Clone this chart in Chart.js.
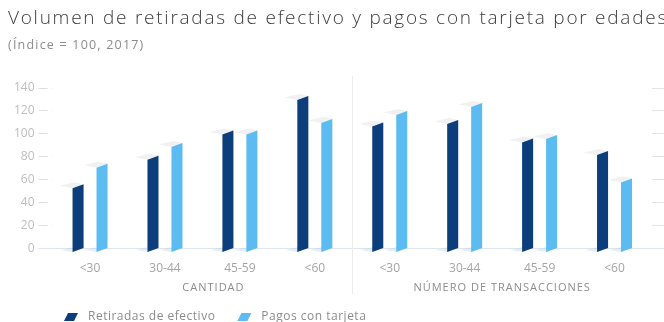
<!DOCTYPE html>
<html>
<head>
<meta charset="utf-8">
<script src="https://cdn.jsdelivr.net/npm/chart.js@4.4.1/dist/chart.umd.min.js"></script>
<style>
  html, body { margin: 0; padding: 0; background: #ffffff; }
  #wrap { position: relative; width: 664px; height: 322px; overflow: hidden; }
  #title { position: absolute; left: 8px; top: 4px; white-space: nowrap;
           font-family: "Open Sans", "Lato", sans-serif; font-weight: 300; font-size: 19px;
           color: #3c3c3c; letter-spacing: 1.75px; }
  #subtitle { position: absolute; left: 8px; top: 36px; white-space: nowrap;
           font-family: "Open Sans", sans-serif; font-weight: 400; font-size: 12.5px; color: #8c8c8c;
           letter-spacing: 1.2px; }
  canvas { position: absolute; left: 0; top: 0; }
</style>
</head>
<body>
<div id="wrap">
  <canvas id="c" width="664" height="322"></canvas>
  <div id="title">Volumen de retiradas de efectivo y pagos con tarjeta por edades</div>
  <div id="subtitle">(Índice = 100, 2017)</div>
</div>
<script>
// ---- data ----
const categories = ['<30', '30-44', '45-59', '<60', '<30', '30-44', '45-59', '<60'];
const groupLabels = ['CANTIDAD', 'NÚMERO DE TRANSACCIONES'];
const groupSizes = [4, 4];
const seriesNames = ['Retiradas de efectivo', 'Pagos con tarjeta'];
const retiradas = [56, 81, 103, 133, 110, 112, 96, 85];
const pagos = [74, 92, 103, 113, 120, 127, 99, 61];
const yTicks = [0, 20, 40, 60, 80, 100, 120, 140];

const DARK = '#0b3e7a';
const LIGHT = '#5cbcf2';

const bar3d = {
  id: 'bar3d',
  beforeDatasetsDraw(chart) {
    const ctx = chart.ctx;
    ctx.save();
    chart.data.datasets.forEach((ds, i) => {
      chart.getDatasetMeta(i).data.forEach(el => {
        const p = el.getProps(['x', 'y', 'base', 'width'], true);
        const l = p.x - p.width / 2, r = p.x + p.width / 2;
        ctx.fillStyle = 'rgba(170,200,230,0.3)';
        ctx.beginPath();
        ctx.moveTo(l - 12, p.base + 2);
        ctx.lineTo(l, p.base + 4);
        ctx.lineTo(r, p.base);
        ctx.lineTo(r - 10, p.base - 1);
        ctx.closePath();
        ctx.fill();
      });
    });
    ctx.restore();
  },
  afterDatasetsDraw(chart) {
    const ctx = chart.ctx;
    ctx.save();
    chart.data.datasets.forEach((ds, i) => {
      chart.getDatasetMeta(i).data.forEach(el => {
        const p = el.getProps(['x', 'y', 'base', 'width'], true);
        const l = p.x - p.width / 2, r = p.x + p.width / 2, s = 4;
        ctx.fillStyle = ds.backgroundColor;
        ctx.beginPath();
        ctx.moveTo(l, p.base);
        ctx.lineTo(r, p.base);
        ctx.lineTo(l, p.base + s);
        ctx.closePath();
        ctx.fill();
        ctx.fillStyle = '#f1f1f1';
        ctx.beginPath();
        ctx.moveTo(l - 13, p.y + 1.5);
        ctx.lineTo(l, p.y + s);
        ctx.lineTo(r, p.y);
        ctx.lineTo(r - 9, p.y - 2);
        ctx.closePath();
        ctx.fill();
      });
    });
    ctx.restore();
  }
};

const extras = {
  id: 'extras',
  afterDraw(chart) {
    const ctx = chart.ctx;
    const xs = chart.scales.x;
    ctx.save();
    let idx = 0;
    for (let g = 0; g < groupSizes.length - 1; g++) {
      idx += groupSizes[g];
      const xd = (xs.getPixelForValue(idx - 1) + xs.getPixelForValue(idx)) / 2;
      ctx.strokeStyle = '#ececec';
      ctx.lineWidth = 1;
      ctx.beginPath();
      ctx.moveTo(Math.round(xd) + 0.5, 76);
      ctx.lineTo(Math.round(xd) + 0.5, 294);
      ctx.stroke();
    }
    ctx.font = '400 11px "Open Sans", sans-serif';
    ctx.fillStyle = '#8c8c8c';
    ctx.textAlign = 'center';
    ctx.textBaseline = 'middle';
    if ('letterSpacing' in ctx) ctx.letterSpacing = '1px';
    let start = 0;
    groupLabels.forEach((lab, g) => {
      const a = xs.getPixelForValue(start), b = xs.getPixelForValue(start + groupSizes[g] - 1);
      const shift = g === 0 ? 11 : 0;
      ctx.fillText(lab, (a + b) / 2 + shift, 288);
      start += groupSizes[g];
    });
    ctx.textAlign = 'left';
    ctx.font = '400 12px "Open Sans", sans-serif';
    if ('letterSpacing' in ctx) ctx.letterSpacing = '0.5px';
    let lx = 64;
    const ly = 317;
    chart.data.datasets.forEach(ds => {
      ctx.fillStyle = ds.backgroundColor;
      ctx.beginPath();
      ctx.moveTo(lx, ly + 4);
      ctx.lineTo(lx + 4, ly - 4);
      ctx.lineTo(lx + 14, ly - 4);
      ctx.lineTo(lx + 10, ly + 4);
      ctx.closePath();
      ctx.fill();
      ctx.fillStyle = '#8c8c8c';
      ctx.fillText(ds.label, lx + 24, ly);
      lx += 24 + ctx.measureText(ds.label).width + 22;
    });
    ctx.restore();
  }
};

new Chart(document.getElementById('c'), {
  type: 'bar',
  data: {
    labels: categories,
    datasets: [
      { label: seriesNames[0], data: retiradas, backgroundColor: DARK },
      { label: seriesNames[1], data: pagos, backgroundColor: LIGHT }
    ]
  },
  options: {
    responsive: false,
    animation: false,
    devicePixelRatio: 1,
    layout: { padding: { top: 88, left: 10, right: 0, bottom: 33 } },
    datasets: { bar: { categoryPercentage: 0.64, barPercentage: 0.46 } },
    plugins: { legend: { display: false }, title: { display: false }, tooltip: { enabled: false } },
    scales: {
      x: {
        grid: { display: false, drawTicks: false },
        border: { display: true, color: '#dfe5ec' },
        ticks: { color: '#a4a4a4', padding: 13, font: { family: '"Open Sans", sans-serif', size: 12 } }
      },
      y: {
        min: 0, max: 140,
        afterBuildTicks: s => { s.ticks = yTicks.map(v => ({ value: v })); },
        grid: {
          drawOnChartArea: false, drawTicks: true, tickLength: 14,
          tickColor: c => (c.tick && c.tick.value === 0) ? '#dfe5ec' : '#dedede',
          tickBorderDash: c => (c.tick && c.tick.value === 0) ? [] : [9, 5]
        },
        border: { display: false },
        ticks: { color: '#bdbdbd', padding: 4, font: { family: '"Open Sans", sans-serif', size: 12 } }
      },
      y2: {
        position: 'right', min: 0, max: 140,
        afterBuildTicks: s => { s.ticks = yTicks.map(v => ({ value: v })); },
        grid: { drawOnChartArea: false, drawTicks: true, tickLength: 12,
          tickColor: c => (c.tick && c.tick.value === 0) ? '#dfe5ec' : '#e4e4e4' },
        border: { display: false },
        ticks: { display: false }
      }
    }
  },
  plugins: [bar3d, extras]
});
</script>
</body>
</html>
